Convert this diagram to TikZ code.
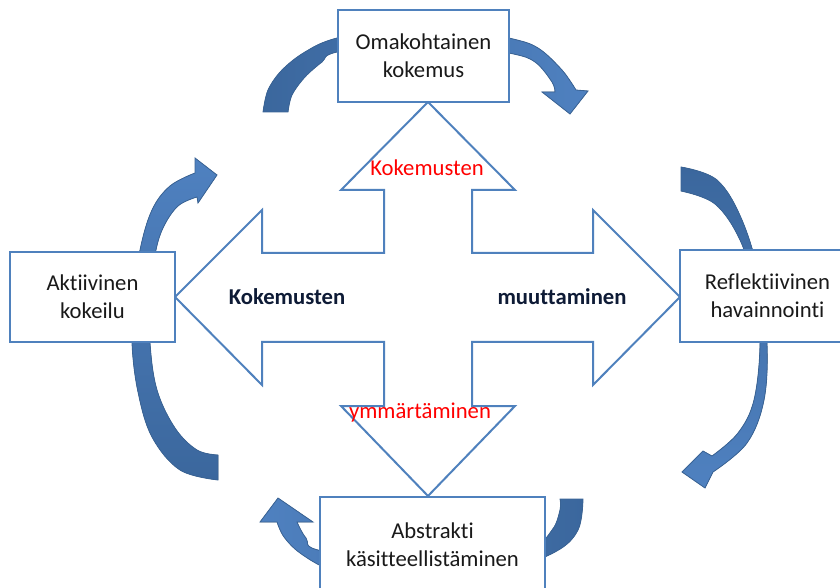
\documentclass[tikz,border=0pt]{standalone}
\usepackage{fontspec}
\setmainfont{Carlito}[Ligatures=NoCommon]
\usepackage{tikz}

\definecolor{boxblue}{HTML}{4F81BD}
\definecolor{bendedge}{HTML}{3A6496}
\definecolor{benddark}{HTML}{3B679D}
\definecolor{bendlight}{HTML}{4F81C0}
\definecolor{labelnavy}{HTML}{0E1B36}

\begin{document}
\begin{tikzpicture}[x=0.75pt,y=0.75pt,yscale=-1,xscale=1,
  stagebox/.style={draw=boxblue,line width=1.5pt,fill=white,inner sep=0.75pt,align=center,font=\fontsize{17}{21}\selectfont,text=black!90},
  bendarrow/.style={draw=bendedge,line width=0.6pt},
  redlabel/.style={inner sep=0.75pt,text=red,font=\fontsize{17}{21}\selectfont},
  boldlabel/.style={inner sep=0.75pt,text=labelnavy,font=\fontsize{17}{21}\selectfont\bfseries}]
\useasboundingbox (0,0) rectangle (840,588);

%Curved arrow: over top box
\filldraw [bendarrow,left color=benddark,right color=bendlight] plot[smooth,tension=0.55] coordinates {(263,112) (268,90) (282,70) (305,52) (337,38) (423,20) (509,38) (538,48) (562,70) (576,90)}
  -- (588,91) -- (570,114) -- (542,92)
  -- plot[smooth,tension=0.55] coordinates {(555,92) (552,82) (535,62) (509,53) (423,38) (337,52) (322,62) (305,77) (292,95) (288,112)} -- cycle ;
%Curved arrow: right box
\filldraw [bendarrow,top color=benddark,bottom color=bendlight] plot[smooth,tension=0.6] coordinates {(681,167) (717,180) (742,220) (760,280) (767,343) (764,400) (747,443) (713,472)}
  -- (705,488) -- (682,472) -- (703,451)
  -- plot[smooth,tension=0.6] coordinates {(712,456) (738,433) (754,400) (760,343) (755,290) (740,240) (715,204) (681,191)} -- cycle ;
%Curved arrow: under bottom box
\filldraw [bendarrow,left color=bendlight,right color=benddark] plot[smooth,tension=0.6] coordinates {(583,499) (578,530) (555,552) (500,572) (432,580) (360,576) (328,569) (300,553) (284,537) (277,522)}
  -- (260,522) -- (278,498) -- (313,522)
  -- plot[smooth,tension=0.6] coordinates {(297,522) (306,538) (322,551) (432,566) (530,545) (552,530) (560,510) (560,499)} -- cycle ;
%Curved arrow: left box
\filldraw [bendarrow,top color=bendlight,bottom color=benddark] plot[smooth,tension=0.6] coordinates {(218,480) (180,470) (152,437) (138,392) (132,343) (134,297) (140,250) (152,210) (170,186) (195,173)}
  -- (195,158) -- (217,175) -- (198,203)
  -- plot[smooth,tension=0.6] coordinates {(197,197) (178,206) (163,228) (155,255) (150,297) (150,343) (157,390) (175,428) (197,450) (218,455)} -- cycle ;

%Shape: four way arrow
\draw [draw=boxblue,line width=1.5pt,fill=white,line join=miter] (175,297) -- (262,210) -- (262,253) -- (384,253) -- (384,190) -- (341,190) -- (428,102) -- (515,190) -- (472,190) -- (472,253) -- (593,253) -- (593,210) -- (680,297) -- (593,385) -- (593,342) -- (472,342) -- (472,406) -- (515,406) -- (428,496) -- (341,406) -- (384,406) -- (384,342) -- (262,342) -- (262,385) -- cycle ;

% Boxes
\node (omakohtainen) at (423.5,56) [stagebox,minimum width=128.25pt,minimum height=69pt] {Omakohtainen\\kokemus};
\node (reflektiivinen) at (767.5,296) [stagebox,minimum width=131.25pt,minimum height=69pt] {Reflektiivinen\\havainnointi};
\node (abstrakti) at (432.5,544.5) [stagebox,minimum width=168.75pt,minimum height=71.25pt] {Abstrakti\\käsitteellistäminen};
\node (aktiivinen) at (92.5,297) [stagebox,minimum width=123.75pt,minimum height=67.5pt] {Aktiivinen\\kokeilu};

% Text Node
\node (ylateksti) at (427,168) [redlabel] {Kokemusten};
\node (alateksti) at (420,413) [redlabel] {ymmärtäminen};
\node (vasenteksti) at (287,297) [boldlabel] {Kokemusten};
\node (oikeateksti) at (562,297) [boldlabel] {muuttaminen};

\end{tikzpicture}
\end{document}
